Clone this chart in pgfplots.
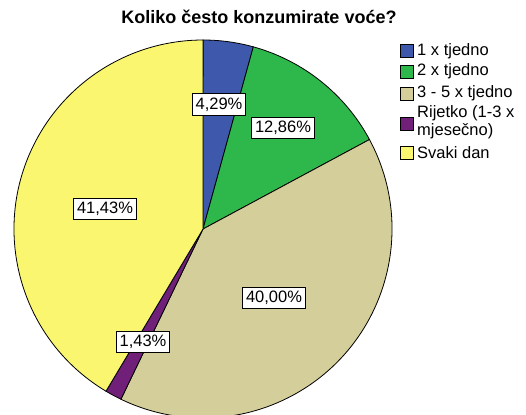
\documentclass[border=0pt]{standalone}
\usepackage{pgfplots}
\pgfplotsset{compat=1.18}
\usepackage{fontspec}
\setmainfont{Liberation Sans}
\definecolor{cA}{RGB}{62,88,172}
\definecolor{cB}{RGB}{46,184,76}
\definecolor{cC}{RGB}{212,206,154}
\definecolor{cD}{RGB}{112,32,120}
\definecolor{cE}{RGB}{250,246,112}
\begin{document}
\begin{tikzpicture}
\def\vA{4.29}\def\vB{12.86}\def\vC{40.00}\def\vD{1.43}\def\vE{41.43}
\path[use as bounding box] (0,0) rectangle (526pt,-414pt);
\begin{axis}[x=1pt,y=1pt,xmin=0,xmax=526,ymin=0,ymax=414,y dir=reverse,
  hide axis, scale only axis, anchor=north west, at={(0,0)}, clip=true]
\filldraw[fill=cA,draw=black,line width=0.8pt] (axis cs:203,229) -- ++(90:189pt) arc[start angle=90, delta angle={-3.6*\vA}, radius=189pt] -- cycle;
\filldraw[fill=cB,draw=black,line width=0.8pt] (axis cs:203,229) -- ++({90-3.6*\vA}:189pt) arc[start angle={90-3.6*\vA}, delta angle={-3.6*\vB}, radius=189pt] -- cycle;
\filldraw[fill=cC,draw=black,line width=0.8pt] (axis cs:203,229) -- ++({90-3.6*(\vA+\vB)}:189pt) arc[start angle={90-3.6*(\vA+\vB)}, delta angle={-3.6*\vC}, radius=189pt] -- cycle;
\filldraw[fill=cD,draw=black,line width=0.8pt] (axis cs:203,229) -- ++({90-3.6*(\vA+\vB+\vC)}:189pt) arc[start angle={90-3.6*(\vA+\vB+\vC)}, delta angle={-3.6*\vD}, radius=189pt] -- cycle;
\filldraw[fill=cE,draw=black,line width=0.8pt] (axis cs:203,229) -- ++({90-3.6*(\vA+\vB+\vC+\vD)}:189pt) arc[start angle={90-3.6*(\vA+\vB+\vC+\vD)}, delta angle={-3.6*\vE}, radius=189pt] -- cycle;
\node[font=\bfseries\fontsize{18}{20}\selectfont] at (axis cs:259,17) {Koliko često konzumirate voće?};
\tikzset{lbl/.style={draw=black,fill=white,inner xsep=3.5pt,inner ysep=4pt,line width=0.8pt,font=\fontsize{16.5}{18}\selectfont},
  leg/.style={anchor=west,inner sep=0pt,align=left,font=\fontsize{16.5}{18}\selectfont},
  legbox/.style={draw=black,line width=0.6pt}}
\node[lbl] at (axis cs:219,104.5) {4,29\%};
\node[lbl] at (axis cs:283,128) {12,86\%};
\node[lbl] at (axis cs:274,298) {40,00\%};
\node[lbl] at (axis cs:143,342) {1,43\%};
\node[lbl] at (axis cs:105,209) {41,43\%};
% legend
\filldraw[legbox,fill=cA] (axis cs:400,44.5) rectangle (axis cs:413,57.5);
\node[leg] at (axis cs:417,51) {1 x tjedno};
\filldraw[legbox,fill=cB] (axis cs:400,65) rectangle (axis cs:413,78);
\node[leg] at (axis cs:417,71.5) {2 x tjedno};
\filldraw[legbox,fill=cC] (axis cs:400,87) rectangle (axis cs:413,100);
\node[leg] at (axis cs:417,93.5) {3 - 5 x tjedno};
\filldraw[legbox,fill=cD] (axis cs:400,117) rectangle (axis cs:413,130);
\node[leg] at (axis cs:417,122) {Rijetko (1-3 x\\mjesečno)};
\filldraw[legbox,fill=cE] (axis cs:400,146) rectangle (axis cs:413,159);
\node[leg] at (axis cs:417,152.5) {Svaki dan};
\end{axis}
\end{tikzpicture}
\end{document}
